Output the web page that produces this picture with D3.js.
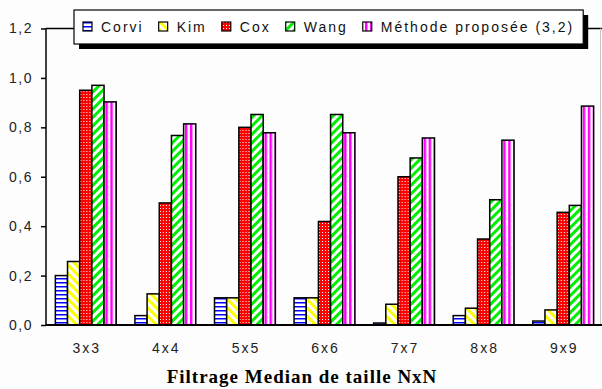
<!DOCTYPE html>
<html>
<head>
<meta charset="utf-8">
<script src="https://cdn.jsdelivr.net/npm/d3@7"></script>
<style>
  body { margin: 0; background: #fdfdfd; }
  svg text { font-family: "Liberation Sans", Arial, sans-serif; }
</style>
</head>
<body>
<div id="chart"></div>
<script>
// data
let categories = ['3x3', '4x4', '5x5', '6x6', '7x7', '8x8', '9x9'];
let seriesNames = ['Corvi', 'Kim', 'Cox', 'Wang', 'Méthode proposée (3,2)'];
let corvi   = [0.20, 0.038, 0.11, 0.11, 0.008, 0.038, 0.016];
let kim     = [0.257, 0.126, 0.11, 0.11, 0.084, 0.068, 0.061];
let cox     = [0.95, 0.494, 0.80, 0.419, 0.60, 0.348, 0.456];
let wang    = [0.97, 0.767, 0.852, 0.852, 0.676, 0.507, 0.484];
let methode = [0.903, 0.814, 0.778, 0.778, 0.757, 0.748, 0.886];
let yTicks = [0, 0.2, 0.4, 0.6, 0.8, 1.0, 1.2];
let title = 'Filtrage Median de taille NxN';

let seriesValues = [corvi, kim, cox, wang, methode];
let patternIds = ['pCorvi', 'pKim', 'pCox', 'pWang', 'pMeth'];

let width = 602;
let height = 389;

const margin = {
    top: 28.5,
    left: 46,
    bottom: 64,
    right: 0,
};

let svg = d3.select('#chart').append('svg')
    .attr('width', width)
    .attr('height', height);

svg.append('rect').attr('width', width).attr('height', height).attr('fill', '#fdfdfd');

//-----patterns-------
let defs = svg.append('defs');

let pc = defs.append('pattern').attr('id', 'pCorvi').attr('patternUnits', 'userSpaceOnUse')
    .attr('width', 4).attr('height', 4).attr('y', 1);
pc.append('rect').attr('width', 4).attr('height', 4).attr('fill', '#fff');
pc.append('rect').attr('y', 1).attr('width', 4).attr('height', 1.5).attr('fill', '#0000ff');

// "\" stripes
let pk = defs.append('pattern').attr('id', 'pKim').attr('patternUnits', 'userSpaceOnUse')
    .attr('width', 6).attr('height', 6).attr('patternTransform', 'rotate(-45)');
pk.append('rect').attr('width', 6).attr('height', 6).attr('fill', '#fff');
pk.append('rect').attr('width', 3).attr('height', 6).attr('fill', '#ffff00');

let px = defs.append('pattern').attr('id', 'pCox').attr('patternUnits', 'userSpaceOnUse')
    .attr('width', 3).attr('height', 3);
px.append('rect').attr('width', 3).attr('height', 3).attr('fill', '#ff0000');
px.append('rect').attr('x', 1).attr('y', 1).attr('width', 1).attr('height', 1).attr('fill', '#ffffff');

// "/" stripes
let pw = defs.append('pattern').attr('id', 'pWang').attr('patternUnits', 'userSpaceOnUse')
    .attr('width', 6).attr('height', 6).attr('patternTransform', 'rotate(45)');
pw.append('rect').attr('width', 6).attr('height', 6).attr('fill', '#fff');
pw.append('rect').attr('width', 3).attr('height', 6).attr('fill', '#00ee00');

let pm = defs.append('pattern').attr('id', 'pMeth').attr('patternUnits', 'userSpaceOnUse')
    .attr('width', 5).attr('height', 5);
pm.append('rect').attr('width', 5).attr('height', 5).attr('fill', '#fff');
pm.append('rect').attr('x', 0).attr('width', 2.5).attr('height', 5).attr('fill', '#ff00ff');

//-----Y-------
let y = d3.scaleLinear().domain([0, 1.2])
    .range([height - margin.bottom, margin.top]);

let yAxis = d3.axisLeft(y)
    .tickValues(yTicks)
    .tickFormat(d => d3.format('.1f')(d).replace('.', ','))
    .tickSize(5)
    .tickPadding(8);

//-----X-------
let x0 = d3.scaleBand().domain(categories)
    .range([margin.left, 603])
    .paddingInner(0.235)
    .paddingOuter(0.1175);

let x1 = d3.scaleBand().domain(d3.range(seriesNames.length))
    .range([0, x0.bandwidth()]);

// plot frame (top line, light right edge)
svg.append('line')
    .attr('x1', margin.left).attr('x2', width)
    .attr('y1', y(1.2)).attr('y2', y(1.2))
    .attr('stroke', '#000').attr('stroke-width', 1.5);
svg.append('line')
    .attr('x1', 600.5).attr('x2', 600.5)
    .attr('y1', y(1.2)).attr('y2', y(0))
    .attr('stroke', '#c8c8c8').attr('stroke-width', 1);

//-----Graph-------
let groups = svg.selectAll('g.cat')
    .data(categories)
    .enter().append('g')
        .attr('class', 'cat')
        .attr('transform', d => 'translate(' + x0(d) + ',0)');

groups.selectAll('rect')
    .data((d, i) => seriesValues.map((s, k) => ({ k: k, v: s[i] })))
    .enter().append('rect')
        .attr('x', d => x1(d.k))
        .attr('y', d => y(d.v))
        .attr('width', x1.bandwidth())
        .attr('height', d => y(0) - y(d.v))
        .attr('fill', d => 'url(#' + patternIds[d.k] + ')')
        .attr('stroke', '#000')
        .attr('stroke-width', 1.5);

// axes
let gy = svg.append('g').attr('class', 'axis y')
    .attr('transform', 'translate(' + margin.left + ',0)')
    .call(yAxis);
gy.select('.domain').remove();
gy.append('line').attr('x1', 0).attr('x2', 0)
    .attr('y1', y(1.2)).attr('y2', y(0))
    .attr('stroke', '#000').attr('stroke-width', 1.5);
gy.selectAll('.tick line').attr('stroke-width', 1.5);
gy.selectAll('.tick text')
    .attr('font-size', 14)
    .attr('letter-spacing', 1.5)
    .attr('fill', '#222');

svg.append('line')
    .attr('x1', margin.left).attr('x2', width)
    .attr('y1', y(0)).attr('y2', y(0))
    .attr('stroke', '#000').attr('stroke-width', 2);

svg.append('g').selectAll('text')
    .data(categories)
    .enter().append('text')
        .attr('x', d => x0(d) + x0.bandwidth() / 2 + 1)
        .attr('y', y(0) + 28)
        .attr('text-anchor', 'middle')
        .attr('font-size', 14)
        .attr('letter-spacing', 2)
        .attr('fill', '#222')
        .text(d => d);

// title
svg.append('text')
    .attr('x', 302)
    .attr('y', 383)
    .attr('text-anchor', 'middle')
    .style('font-family', '"Liberation Serif", "Times New Roman", serif')
    .attr('font-weight', 'bold')
    .attr('font-size', 19)
    .attr('letter-spacing', 1)
    .text(title);

//-----Legend-------
let legend = svg.append('g');
let lx = 74, ly = 10, lh = 34;
let shadow = legend.append('rect').attr('fill', '#000');
let box = legend.append('rect').attr('fill', '#fff').attr('stroke', '#000').attr('stroke-width', 1.2);

let cursor = lx + 9;
seriesNames.forEach(function(name, k) {
    legend.append('rect')
        .attr('x', cursor).attr('y', 22)
        .attr('width', 9).attr('height', 9)
        .attr('fill', 'url(#' + patternIds[k] + ')')
        .attr('stroke', '#000').attr('stroke-width', 1.2);
    let t = legend.append('text')
        .attr('x', cursor + 18).attr('y', 32)
        .attr('font-size', 14)
        .attr('letter-spacing', 2)
        .attr('fill', '#111')
        .text(name);
    cursor = cursor + 18 + t.node().getComputedTextLength() + 15;
});
let lw = Math.max(cursor - 15 + 9 - lx, 505);
box.attr('x', lx).attr('y', ly).attr('width', lw).attr('height', lh);
shadow.attr('x', lx + 5).attr('y', ly + 5).attr('width', lw).attr('height', lh);
</script>
</body>
</html>
